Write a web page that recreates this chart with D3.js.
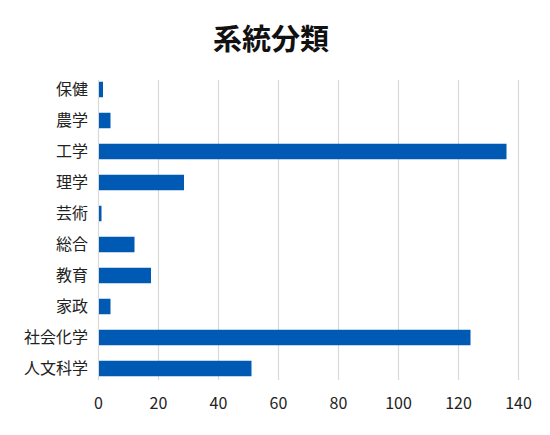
<!DOCTYPE html>
<html>
<head>
<meta charset="utf-8">
<script src="https://cdn.jsdelivr.net/npm/d3@7"></script>
<style>
  body { margin: 0; background: #fff; }
</style>
</head>
<body>
<svg id="chart" width="550" height="435"></svg>
<script>
// data
const categories = ["保健", "農学", "工学", "理学", "芸術", "総合", "教育", "家政", "社会化学", "人文科学"];
const counts = [1.5, 4, 136, 28.5, 1, 12, 17.5, 4, 124, 51];
const xTicks = [0, 20, 40, 60, 80, 100, 120, 140];

const fontFamily = "'Noto Sans CJK JP', 'Noto Sans', sans-serif";
const svg = d3.select("#chart");

let x = d3.scaleLinear().domain([0, 140]).range([98.5, 518.5]);
let y = d3.scaleBand()
  .domain(categories)
  .range([74, 384])
  .paddingInner(0.5)
  .paddingOuter(0.25);

// title
svg.append("text")
  .attr("x", 271)
  .attr("y", 50)
  .attr("text-anchor", "middle")
  .text("系統分類")
  .style("font-family", fontFamily)
  .style("font-weight", "bold")
  .style("font-size", "29px")
  .style("fill", "#111");

// vertical gridlines
svg.append("g")
  .selectAll("line")
  .data(xTicks)
  .join("line")
  .attr("x1", d => x(d))
  .attr("x2", d => x(d))
  .attr("y1", 80)
  .attr("y2", 380)
  .style("stroke", "#d9d9d9")
  .style("stroke-width", 1.2);

// bars
svg.append("g")
  .selectAll("rect")
  .data(categories)
  .join("rect")
  .attr("x", x(0) + 0.5)
  .attr("y", d => y(d))
  .attr("width", (d, i) => x(counts[i]) - x(0) - 0.5)
  .attr("height", y.bandwidth())
  .style("fill", "#0059b3");

// category labels
svg.append("g")
  .selectAll("text")
  .data(categories)
  .join("text")
  .attr("x", 88)
  .attr("y", d => y(d) + y.bandwidth() / 2)
  .attr("dy", "0.36em")
  .attr("text-anchor", "end")
  .text(d => d)
  .style("font-family", fontFamily)
  .style("font-size", "16px")
  .style("fill", "#222");

// x tick labels
svg.append("g")
  .selectAll("text")
  .data(xTicks)
  .join("text")
  .attr("x", d => x(d))
  .attr("y", 409)
  .attr("text-anchor", "middle")
  .text(d => d)
  .style("font-family", fontFamily)
  .style("font-size", "16px")
  .style("fill", "#222");
</script>
</body>
</html>
